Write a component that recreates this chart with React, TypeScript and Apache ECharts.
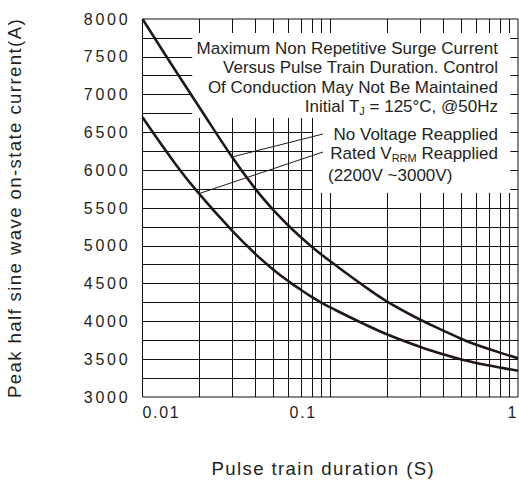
import React, { useEffect, useRef } from 'react';
import * as echarts from 'echarts';

// Pulse train duration (s) at which each curve is sampled
const durations = [0.01, 0.015, 0.02, 0.03, 0.04, 0.05, 0.06, 0.07, 0.08, 0.09, 0.1, 0.15, 0.2, 0.3, 0.4, 0.5, 0.6, 0.8, 1];
// Peak half sine wave on-state current (A), no voltage reapplied
const noVoltage = [8000, 7315, 6840, 6175, 5750, 5468, 5265, 5110, 4985, 4882, 4795, 4475, 4265, 4025, 3878, 3768, 3690, 3587, 3512];
// Peak half sine wave on-state current (A), rated VRRM reapplied
const ratedVrrm = [6700, 6080, 5690, 5200, 4890, 4680, 4530, 4415, 4320, 4245, 4185, 3970, 3830, 3665, 3565, 3495, 3450, 3390, 3348];

// Log-paper gridlines (the plot frame is drawn by the grid border)
const gridX = [0.02, 0.03, 0.04, 0.05, 0.06, 0.07, 0.08, 0.09, 0.1, 0.2, 0.3, 0.4, 0.5, 0.6, 0.7, 0.8, 0.9];
const gridY = [3250, 3500, 3750, 4000, 4250, 4500, 4750, 5000, 5250, 5500, 5750, 6000, 6250, 6500, 6750, 7000, 7250, 7500, 7750];
const xTickLabels = [
  { value: 0.01, text: '0.01' },
  { value: 0.1, text: '0.1' },
  { value: 1, text: '1' },
];

const noteLines = [
  'Maximum Non Repetitive Surge Current',
  'Versus Pulse Train Duration. Control',
  'Of Conduction May Not Be Maintained',
  'Initial T{s|J} = 125°C, @50Hz',
];
const curveNames = ['No Voltage Reapplied', 'Rated V{s|RRM} Reapplied', '(2200V ~3000V)'];

const X_MIN = 0.01;
const X_MAX = 1;
const Y_MIN = 3000;
const Y_MAX = 8000;
// Gridlines stop short of the note block: an upper band and a narrower lower band
const NOTE = { upperLeft: 0.0184, lowerLeft: 0.081, right: 0.91, top: 7815, mid: 6690, bottom: 5700 };

const INK = '#231f20';
const CURVE = '#231815';
const GRID = '#111111';
const BASE = "'Liberation Sans', sans-serif";
const Y_TICK_FONT = "'Liberation Sans', Arimo, sans-serif";
const X_TICK_FONT = "'Liberation Sans', Helvetica, sans-serif";
const TITLE_FONT = "'Liberation Sans', 'Nimbus Sans', sans-serif";

const css = `
.surge text[style*="Arimo"]{letter-spacing:2.8px}
.surge text[style*="Helvetica"]{letter-spacing:1.7px}
.surge text[style*="Nimbus"]{letter-spacing:1.4px}
`;

type Seg = [{ coord: number[] }, { coord: number[] }];
const hSeg = (y: number, x1: number, x2: number): Seg => [{ coord: [x1, y] }, { coord: [x2, y] }];
const vSeg = (x: number, y1: number, y2: number): Seg => [{ coord: [x, y1] }, { coord: [x, y2] }];

function gridSegments(): Seg[] {
  const segs: Seg[] = [];
  for (const y of gridY) {
    if (y > NOTE.mid && y < NOTE.top) {
      segs.push(hSeg(y, X_MIN, NOTE.upperLeft), hSeg(y, NOTE.right, X_MAX));
    } else if (y > NOTE.bottom && y <= NOTE.mid) {
      segs.push(hSeg(y, X_MIN, NOTE.lowerLeft), hSeg(y, NOTE.right, X_MAX));
    } else {
      segs.push(hSeg(y, X_MIN, X_MAX));
    }
  }
  for (const x of gridX) {
    if (x >= NOTE.upperLeft && x < NOTE.lowerLeft) {
      segs.push(vSeg(x, Y_MIN, NOTE.mid), vSeg(x, NOTE.top, Y_MAX));
    } else if (x >= NOTE.lowerLeft && x < NOTE.right) {
      segs.push(vSeg(x, Y_MIN, NOTE.bottom), vSeg(x, NOTE.top, Y_MAX));
    } else {
      segs.push(vSeg(x, Y_MIN, Y_MAX));
    }
  }
  return segs;
}

function tickText(v: number): string {
  for (const t of xTickLabels) {
    if (Math.abs(Math.log10(v) - Math.log10(t.value)) < 1e-6) {
      return t.value === 0.1 ? `{m|${t.text}}` : t.text;
    }
  }
  return '';
}

export default function App() {
  const ref = useRef<HTMLDivElement>(null);

  useEffect(() => {
    if (!ref.current) return;
    const chart = echarts.init(ref.current, undefined, { renderer: 'svg' });
    const sub = { fontSize: 11, lineHeight: 11, verticalAlign: 'bottom', fontFamily: BASE, fill: INK, color: INK };
    const noteText = (text: string, x: number, y: number, align: string) => ({
      type: 'text',
      z: 10,
      x,
      y,
      silent: true,
      style: {
        text,
        align,
        textAlign: align,
        verticalAlign: 'middle',
        textVerticalAlign: 'middle',
        fontSize: 17,
        fontFamily: BASE,
        lineHeight: 20,
        fill: INK,
        rich: { s: sub },
      },
    });
    const leader = { type: 'solid', color: CURVE, width: 1 };

    chart.setOption({
      animation: false,
      backgroundColor: '#ffffff',
      grid: {
        left: 142.5,
        right: 1,
        top: 19,
        bottom: 84,
        containLabel: false,
        outerBoundsMode: 'none',
        show: true,
        borderColor: GRID,
        borderWidth: 1,
      },
      xAxis: {
        type: 'log',
        logBase: 10,
        min: X_MIN,
        max: X_MAX,
        axisLine: { show: false },
        axisTick: { show: false },
        splitLine: { show: false },
        axisLabel: {
          formatter: tickText,
          margin: 7,
          fontSize: 16,
          fontFamily: X_TICK_FONT,
          color: INK,
          alignMinLabel: 'left',
          alignMaxLabel: 'right',
          rich: { m: { padding: [0, 54, 0, 0], fontSize: 16, fontFamily: X_TICK_FONT, color: INK } },
        },
        name: 'Pulse train duration (S)',
        nameLocation: 'middle',
        nameGap: 62,
        nameTextStyle: { fontSize: 18.6, fontFamily: TITLE_FONT, color: INK, padding: [0, 14, 0, 0] },
      },
      yAxis: {
        type: 'value',
        min: Y_MIN,
        max: Y_MAX,
        interval: 500,
        axisLine: { show: false },
        axisTick: { show: false },
        splitLine: { show: false },
        axisLabel: { margin: 12, fontSize: 16, fontFamily: Y_TICK_FONT, color: INK, formatter: (v: number) => String(v) },
        name: 'Peak half sine wave on-state current(A)',
        nameLocation: 'middle',
        nameRotate: 90,
        nameGap: 119,
        nameTextStyle: { fontSize: 18.6, fontFamily: TITLE_FONT, color: INK },
      },
      graphic: [
        ...noteLines.map((t, i) => noteText(t, 498, 48.3 + i * 19.4, 'right')),
        noteText(curveNames[0], 498, 134, 'right'),
        noteText(curveNames[1], 498, 153.3, 'right'),
        noteText(curveNames[2], 328, 175, 'left'),
      ],
      series: [
        {
          // log-paper gridlines
          type: 'line',
          z: 1,
          silent: true,
          data: [[X_MIN, Y_MIN]],
          showSymbol: false,
          lineStyle: { opacity: 0 },
          markLine: {
            silent: true,
            symbol: 'none',
            animation: false,
            label: { show: false },
            emphasis: { disabled: true },
            lineStyle: { type: 'solid', color: GRID, width: 1 },
            data: gridSegments(),
          },
        },
        {
          name: 'No Voltage Reapplied',
          type: 'line',
          z: 3,
          smooth: 0.4,
          showSymbol: false,
          lineStyle: { color: CURVE, width: 2.6 },
          data: durations.map((d, i) => [d, noVoltage[i]]),
          markLine: {
            silent: true,
            symbol: 'none',
            animation: false,
            label: { show: false },
            lineStyle: leader,
            data: [[{ coord: [durations[3], noVoltage[3]] }, { x: 323, y: 134 }]],
          },
        },
        {
          name: 'Rated VRRM Reapplied',
          type: 'line',
          z: 3,
          smooth: 0.4,
          showSymbol: false,
          lineStyle: { color: CURVE, width: 2.6 },
          data: durations.map((d, i) => [d, ratedVrrm[i]]),
          markLine: {
            silent: true,
            symbol: 'none',
            animation: false,
            label: { show: false },
            lineStyle: leader,
            data: [[{ coord: [durations[2], ratedVrrm[2]] }, { x: 323, y: 152 }]],
          },
        },
      ],
    });
    return () => chart.dispose();
  }, []);

  return (
    <>
      <style>{css}</style>
      <div
        ref={ref}
        className="surge"
        style={{ position: 'absolute', left: 0, top: 0, width: 519, height: 481, background: '#fff' }}
      />
    </>
  );
}
